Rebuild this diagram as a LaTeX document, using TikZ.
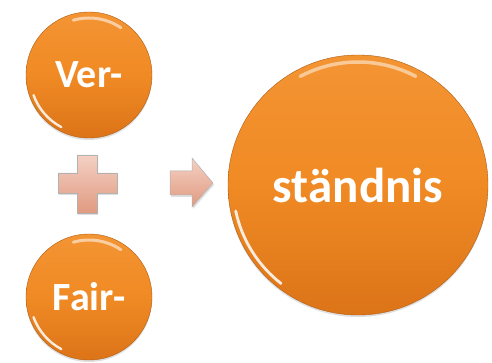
\documentclass[tikz,border=0pt]{standalone}
\usepackage{fontspec}
\setmainfont{Carlito}
\usetikzlibrary{shadows,fadings,calc}
\definecolor{orTop}{HTML}{F39433}
\definecolor{orMid}{HTML}{F08A24}
\definecolor{orBot}{HTML}{DC7418}
\definecolor{peach}{HTML}{EBAA92}
\definecolor{peachD}{HTML}{E09A80}
\tikzset{
  ball/.style={circle, draw=orBot!80!black, line width=0.4pt,
    top color=orTop, bottom color=orBot, middle color=orMid,
    text=white, font=\bfseries, inner sep=0pt,
    drop shadow={shadow xshift=0pt, shadow yshift=-2pt, opacity=0.25}},
  shine/.style={white, line width=2.4pt, opacity=0.85, line cap=round},
  sym/.style={draw=gray!60, line width=0.5pt, top color=peach!55!white, bottom color=peachD,
    drop shadow={shadow xshift=1pt, shadow yshift=-2pt, opacity=0.25}}
}
\begin{document}
\begin{tikzpicture}[x=1pt,y=-1pt]
\useasboundingbox (0,0) rectangle (492,363);
\fill[white] (0,0) rectangle (492,363);
% circles
\node[ball, minimum size=126pt, font=\bfseries\fontsize{40}{40}\selectfont] (ver) at (89,75) {Ver-};
\node[ball, minimum size=126pt, font=\bfseries\fontsize{40}{40}\selectfont] (fair) at (89,297) {Fair-};
\node[ball, minimum size=260pt, font=\bfseries\fontsize{49}{49}\selectfont] (st) at (358,185) {ständnis};
% rim highlights (all in the y-down xyz system: angle a is screen angle -a)
\draw[shine] (ver.center) ++(160:59) arc[start angle=160, end angle=118, radius=59];
\draw[shine, line width=3pt, opacity=0.55] (ver.center) ++(254:57) arc[start angle=254, end angle=304, radius=57];
\draw[shine] (fair.center) ++(160:59) arc[start angle=160, end angle=118, radius=59];
\draw[shine, line width=3pt, opacity=0.55] (fair.center) ++(254:57) arc[start angle=254, end angle=304, radius=57];
\draw[shine, line width=2.8pt] (st.center) ++(168:125) arc[start angle=168, end angle=128, radius=125];
\draw[shine, line width=3.5pt, opacity=0.5] (st.center) ++(242:123) arc[start angle=242, end angle=298, radius=123];
% plus
\path[sym] (77,155) -- (97,155) -- (97,173) -- (117,173) -- (117,193) -- (97,193)
  -- (97,213) -- (77,213) -- (77,193) -- (58,193) -- (58,173) -- (77,173) -- cycle;
% arrow
\path[sym] (170,171) -- (192,171) -- (192,158) -- (213,183) -- (192,207) -- (192,195) -- (170,195) -- cycle;
\end{tikzpicture}
\end{document}
